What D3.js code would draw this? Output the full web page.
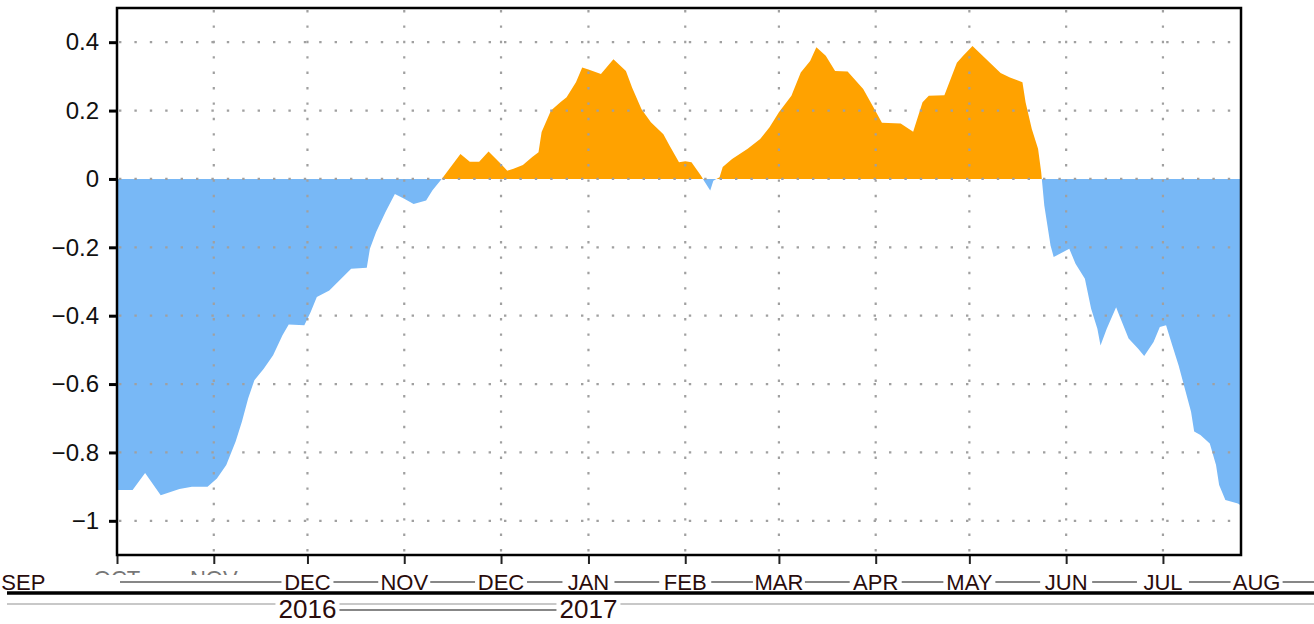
<!DOCTYPE html>
<html>
<head>
<meta charset="utf-8">
<script src="https://cdn.jsdelivr.net/npm/d3@7"></script>
<style>
  html, body { margin: 0; padding: 0; background: #fff; }
  svg { display: block; font-family: "Liberation Sans", Arial, sans-serif; }
  .grid line { stroke: #a0a0a0; stroke-width: 2.2; stroke-dasharray: 2.4 13; }
  .xlab { fill: #2a0c0c; font-size: 22px; }
  .xlab.faint { fill: #777; }
  .year { fill: #2a0c0c; font-size: 26px; }
</style>
</head>
<body>
<svg id="chart" width="1314" height="624"></svg>
<script>
// series: days after 1 Oct 2016, value
const startDate = new Date(2016, 9, 1);
const spanDays = 360;
const days = [0, 5, 9, 14, 20, 24, 29, 32, 35, 38, 40, 42, 44, 47, 50, 53, 55, 60, 62, 64,
  68, 75, 80, 81, 83, 86, 89, 92, 95, 99, 101, 104, 110, 113, 116, 119, 123, 125, 127, 130,
  133, 135, 136, 139, 142, 144, 147, 149, 151, 155, 159, 163, 165, 168, 171, 175, 177, 180, 182, 184,
  187, 188, 190, 191, 193, 194, 197, 202, 206, 209, 212, 216, 219, 222, 224, 227, 230, 234, 239, 242,
  245, 251, 255, 258, 260, 265, 267, 269, 271, 274, 279, 283, 286, 290, 291, 293, 295, 296, 297, 298,
  299, 300, 302, 305, 307, 310, 312, 314, 315, 317, 320, 321, 324, 327, 329, 332, 334, 336, 338, 340,
  342, 344, 345, 347, 350, 352, 353, 355, 359, 360];
const values = [-0.91, -0.91, -0.86, -0.925, -0.907, -0.9, -0.9, -0.876, -0.837, -0.768, -0.71, -0.642, -0.589, -0.555, -0.516, -0.457, -0.426, -0.428, -0.39, -0.345,
  -0.326, -0.263, -0.26, -0.204, -0.155, -0.097, -0.044, -0.058, -0.073, -0.063, -0.034, 0.0, 0.073, 0.05, 0.05, 0.08, 0.044, 0.024, 0.03, 0.041,
  0.064, 0.078, 0.137, 0.2, 0.224, 0.239, 0.283, 0.326, 0.32, 0.307, 0.35, 0.316, 0.267, 0.204, 0.166, 0.131, 0.097, 0.049, 0.052, 0.049,
  0.01, -0.005, -0.034, -0.005, 0.005, 0.035, 0.058, 0.088, 0.117, 0.151, 0.195, 0.243, 0.311, 0.345, 0.385, 0.36, 0.316, 0.314, 0.263, 0.214,
  0.164, 0.162, 0.138, 0.224, 0.243, 0.245, 0.292, 0.34, 0.36, 0.389, 0.345, 0.31, 0.297, 0.283, 0.224, 0.146, 0.088, 0.02, -0.078, -0.136,
  -0.195, -0.228, -0.219, -0.204, -0.248, -0.292, -0.38, -0.438, -0.487, -0.438, -0.375, -0.399, -0.467, -0.496, -0.518, -0.477, -0.433, -0.428, -0.487, -0.545,
  -0.613, -0.681, -0.739, -0.749, -0.774, -0.837, -0.895, -0.939, -0.949, -0.955];

const yTicks = [0.4, 0.2, 0, -0.2, -0.4, -0.6, -0.8, -1];
const yTickLabels = ['0.4', '0.2', '0', '\u22120.2', '\u22120.4', '\u22120.6', '\u22120.8', '\u22121'];

// month labels as they appear under the axis (month start they sit on)
const labelMonths = ['2016-09', '2016-10', '2016-11', '2016-12', '2017-01', '2017-02', '2017-03',
  '2017-04', '2017-05', '2017-06', '2017-07', '2017-08', '2017-09', '2017-10'];
const labelTexts = ['SEP', 'OCT', 'NOV', 'DEC', 'NOV', 'DEC', 'JAN', 'FEB', 'MAR', 'APR', 'MAY', 'JUN', 'JUL', 'AUG'];
const faintLabels = ['2016-10', '2016-11'];
const yearMonths = ['2016-12', '2017-03'];
const yearTexts = ['2016', '2017'];

const margin = { top: 8, right: 73, bottom: 69, left: 117 };
const W = 1314, H = 624;
const innerW = W - margin.left - margin.right;
const innerH = H - margin.top - margin.bottom;

const parseMonth = d3.timeParse('%Y-%m');
const data = days.map((d, i) => ({ date: d3.timeDay.offset(startDate, d), v: values[i] }));

const x = d3.scaleTime()
  .domain([startDate, d3.timeDay.offset(startDate, spanDays)])
  .range([0, innerW]);
const y = d3.scaleLinear().domain([-1.1, 0.5]).range([innerH, 0]);

const svg = d3.select('#chart');
const defs = svg.append('defs');
defs.append('clipPath').attr('id', 'clip-pos')
  .append('rect').attr('x', 0).attr('y', 0).attr('width', innerW).attr('height', y(0));
defs.append('clipPath').attr('id', 'clip-neg')
  .append('rect').attr('x', 0).attr('y', y(0)).attr('width', innerW).attr('height', innerH - y(0));

const g = svg.append('g').attr('transform', `translate(${margin.left},${margin.top})`);

// filled areas, split at zero
const area = d3.area().x(d => x(d.date)).y0(y(0)).y1(d => y(d.v));
g.append('path').datum(data).attr('d', area).attr('fill', '#ffa200').attr('clip-path', 'url(#clip-pos)');
g.append('path').datum(data).attr('d', area).attr('fill', '#78b8f6').attr('clip-path', 'url(#clip-neg)');

// dotted grid over the fill
const monthTicks = d3.timeMonth.range(startDate, d3.timeDay.offset(startDate, spanDays));
g.append('g').attr('class', 'grid')
  .selectAll('line').data(monthTicks.slice(1)).join('line')
  .attr('x1', d => x(d)).attr('x2', d => x(d)).attr('y1', 2).attr('y2', innerH);
g.append('g').attr('class', 'grid')
  .selectAll('line').data(yTicks).join('line')
  .attr('x1', 2).attr('x2', innerW).attr('y1', d => y(d)).attr('y2', d => y(d));

// y axis
const yAxis = g.append('g')
  .call(d3.axisLeft(y).tickValues(yTicks).tickSize(8).tickPadding(10)
    .tickFormat((d, i) => yTickLabels[i]));
yAxis.select('.domain').remove();
yAxis.selectAll('.tick line').attr('stroke', '#000').attr('stroke-width', 3);
yAxis.selectAll('.tick text').style('font-size', '24px').attr('fill', '#111')
  .style('font-family', '"Liberation Sans", Arial, sans-serif');

// x axis ticks below the frame
const xAxis = g.append('g').attr('transform', `translate(0,${innerH})`)
  .call(d3.axisBottom(x).tickValues(monthTicks).tickSize(9).tickFormat(''));
xAxis.select('.domain').remove();
xAxis.selectAll('.tick line').attr('stroke', '#222').attr('stroke-width', 2);

// frame
g.append('rect').attr('width', innerW).attr('height', innerH)
  .attr('fill', 'none').attr('stroke', '#000').attr('stroke-width', 2.5);

// rules under the axis
const rules = svg.append('g');
rules.append('line').attr('x1', 7).attr('x2', W).attr('y1', 593).attr('y2', 593)
  .attr('stroke', '#000').attr('stroke-width', 3.5);
rules.append('line').attr('x1', 7).attr('x2', W).attr('y1', 604).attr('y2', 604)
  .attr('stroke', '#c8c8c8').attr('stroke-width', 2);
rules.append('line').attr('x1', 120).attr('x2', W).attr('y1', 582).attr('y2', 582)
  .attr('stroke', '#111').attr('stroke-width', 1.2);
rules.append('line').attr('x1', 337).attr('x2', 565).attr('y1', 610).attr('y2', 610)
  .attr('stroke', '#111').attr('stroke-width', 1.2);

// month labels (white backing hides the connecting rule)
const labelG = svg.append('g').attr('transform', `translate(${margin.left},0)`);
defs.append('clipPath').attr('id', 'clip-faint')
  .append('rect').attr('x', -margin.left).attr('y', 0).attr('width', W).attr('height', 575);
labelMonths.forEach((m, i) => {
  const cx = x(parseMonth(m));
  const faint = faintLabels.includes(m);
  if (!faint) {
    labelG.append('rect').attr('x', cx - 26).attr('y', 573).attr('width', 52).attr('height', 17).attr('fill', '#fff');
  }
  labelG.append('text')
    .attr('class', faint ? 'xlab faint' : 'xlab')
    .attr('x', cx).attr('y', faint ? 586 : 590)
    .attr('text-anchor', 'middle')
    .attr('clip-path', faint ? 'url(#clip-faint)' : null)
    .text(labelTexts[i]);
});
yearMonths.forEach((m, i) => {
  const cx = x(parseMonth(m));
  labelG.append('rect').attr('x', cx - 32).attr('y', 596).attr('width', 64).attr('height', 24).attr('fill', '#fff');
  labelG.append('text').attr('class', 'year')
    .attr('x', cx).attr('y', 618).attr('text-anchor', 'middle')
    .text(yearTexts[i]);
});
</script>
</body>
</html>
